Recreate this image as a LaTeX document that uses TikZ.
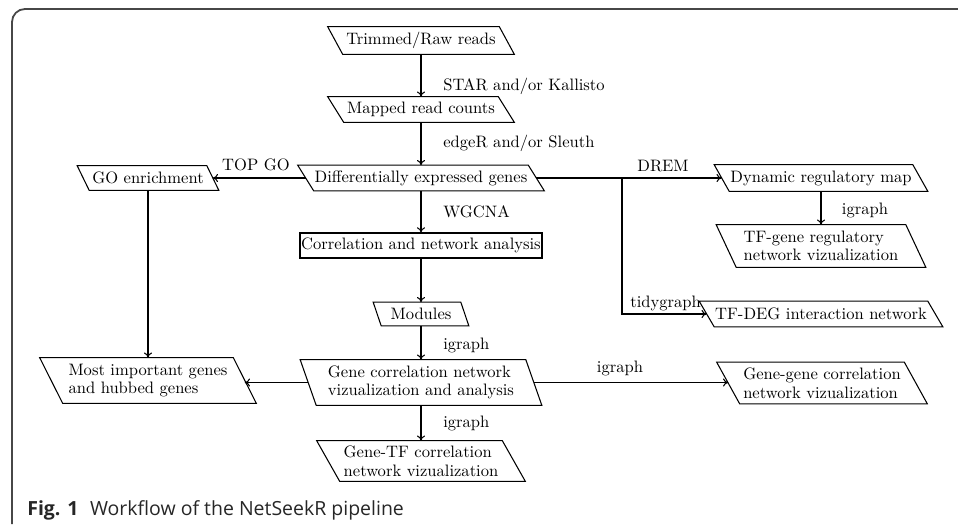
\documentclass[tikz,border=0pt]{standalone}
\usepackage{fontspec}
\newfontfamily\capfont{Open Sans}
\usetikzlibrary{calc,arrows.meta}
\newcommand\paradraw[2]{\draw[boxline] ($(#1.north west)+(-#2/2,0)$) -- ($(#1.north east)+(-#2/2,0)$) -- ($(#1.south east)+(#2/2,0)$) -- ($(#1.south west)+(#2/2,0)$) -- cycle;}
\begin{document}
\begin{tikzpicture}[x=0.616pt,y=-0.616pt,
  every node/.style={font=\fontsize{10.2}{11.5}\selectfont, inner sep=0pt, align=left},
  pbox/.style 2 args={minimum width={#1*0.616pt}, minimum height={#2*0.616pt}},
  rbox/.style 2 args={draw, line width=0.65pt, minimum width={#1*0.616pt}, minimum height={#2*0.616pt}},
  boxline/.style={line width=0.65pt},
  conn/.style={-{To[length=3.2pt,width=5pt]}, line width=0.65pt},
  lbl/.style={anchor=west},
  framecol/.style={draw=black!72, line width=1.1pt}
]
\useasboundingbox (0,0) rectangle (958,527);
\draw[framecol, rounded corners=8pt] (958,9) -- (12,9) -- (12,524);

% nodes
\node[pbox={171}{27}] (raw) at (421,40.5) {Trimmed/Raw reads};
\node[pbox={170}{25}] (mapped) at (421,109.5) {Mapped read counts};
\node[pbox={230}{25}] (deg) at (421,178) {Differentially expressed genes};
\node[pbox={129}{24}] (go) at (148,178) {GO enrichment};
\node[rbox={242}{25}] (corr) at (421,245.5) {Correlation and network analysis};
\node[pbox={87}{23}] (mod) at (421,314) {Modules};
\node[pbox={225}{45}] (gcorr) at (421,382.5) {Gene correlation network\\vizualization and analysis};
\node[pbox={193}{45}] (most) at (148,380.5) {Most important genes\\and hubbed genes};
\node[pbox={185}{40}] (gtf) at (421,461) {Gene-TF correlation\\network vizualization};
\node[pbox={187}{41}] (gg) at (822,383) {Gene-gene correlation\\network vizualization};
\node[pbox={198}{26}] (dyn) at (821,178) {Dynamic regulatory map};
\node[pbox={189}{42}] (tfg) at (821,246) {TF-gene regulatory\\network vizualization};
\node[pbox={228}{25}] (tfdeg) at (821,314) {TF-DEG interaction network};

\paradraw{raw}{15}
\paradraw{mapped}{16}
\paradraw{deg}{16}
\paradraw{go}{12}
\paradraw{mod}{8}
\paradraw{gcorr}{16}
\paradraw{most}{23}
\paradraw{gtf}{23}
\paradraw{gg}{23}
\paradraw{dyn}{15}
\paradraw{tfg}{20}
\paradraw{tfdeg}{15}

% connectors
\draw[conn] (raw) -- (mapped);
\draw[conn] (mapped) -- (deg);
\draw[conn] (deg) -- (corr);
\draw[conn] (corr) -- (mod);
\draw[conn] (mod) -- (gcorr);
\draw[conn] (gcorr) -- (gtf);
\draw[conn] (deg) -- (go);
\draw[conn] (go) -- (go |- most.north);
\draw[conn] (gcorr.west) -- (gcorr.west -| most.east);
\draw[conn] (gcorr.east) -- (gcorr.east -| gg.west);
\draw[conn] (deg) -- (dyn);
\draw[conn] (dyn) -- (tfg);
\coordinate (br) at (622,178);
\draw[conn] (br) |- (tfdeg);

% labels
\node[lbl] (l1) at (443,86) {STAR and/or Kallisto};
\node[lbl] (l2) at (443,143) {edgeR and/or Sleuth};
\node (l3) at (256,165) {TOP GO};
\node (l4) at (663,166) {DREM};
\node[lbl] (l5) at (443,212) {WGCNA};
\node[lbl] (l6) at (630,303) {tidygraph};
\node (l7) at (865,210) {igraph};
\node[lbl] (l8) at (443,345) {igraph};
\node (l9) at (620,368) {igraph};
\node[lbl] (l10) at (443,423) {igraph};

% caption
\node[anchor=base west, font=\capfont\fontsize{12}{14}\selectfont, text=black!85] (cap) at (27,515) {\textbf{Fig. 1}\hspace{0.6em}Workflow of the NetSeekR pipeline};
\end{tikzpicture}
\end{document}
